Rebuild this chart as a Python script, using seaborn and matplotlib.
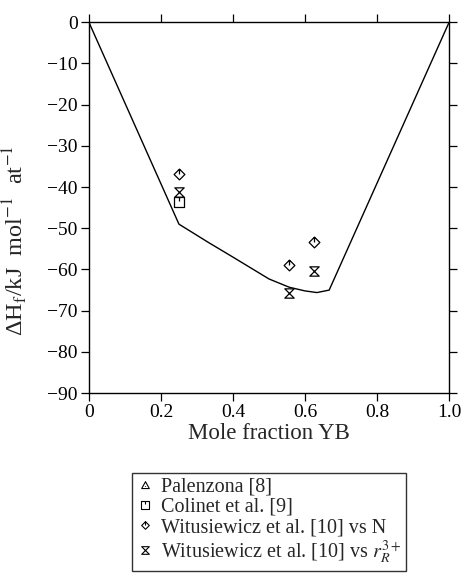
import numpy as np
import pandas as pd
import matplotlib
matplotlib.use("Agg")
import matplotlib.pyplot as plt
from matplotlib.path import Path
import seaborn as sns

# ---- data ----
curve_x = [0.0, 0.25, 0.333, 0.4, 0.5, 0.556, 0.6, 0.633, 0.667, 1.0]
curve_y = [0.0, -49.0, -53.5, -57.0, -62.3, -64.3, -65.2, -65.6, -65.0, 0.0]

palenzona_x = [0.25]
palenzona_y = [-43.6]
colinet_x = [0.25]
colinet_y = [-43.7]
wit_n_x = [0.25, 0.556, 0.625]
wit_n_y = [-36.9, -58.8, -53.4]
wit_r_x = [0.25, 0.556, 0.625]
wit_r_y = [-41.3, -65.6, -60.4]

labels = ["Palenzona [8]", "Colinet et al. [9]",
          "Witusiewicz et al. [10] vs N",
          "Witusiewicz et al. [10] vs $r_R^{3+}$"]
xticks = [0, 0.2, 0.4, 0.6, 0.8, 1.0]
xticklabels = ["0", "0.2", "0.4", "0.6", "0.8", "1.0"]
yticks = list(range(-90, 1, 10))

sns.set_theme(style="ticks")
plt.rcParams['font.family'] = ['Liberation Serif', 'DejaVu Serif']
plt.rcParams['mathtext.fontset'] = 'stix'

# ---- custom markers ----
tri = Path([(-1, -0.8), (1, -0.8), (0, 1), (-1, -0.8), (0, -0.2), (0, -0.4)],
           [Path.MOVETO, Path.LINETO, Path.LINETO, Path.CLOSEPOLY, Path.MOVETO, Path.LINETO])
sq = Path([(-1, -1), (1, -1), (1, 1), (-1, 1), (-1, -1), (0, 1), (0, 0.2)],
          [Path.MOVETO, Path.LINETO, Path.LINETO, Path.LINETO, Path.CLOSEPOLY, Path.MOVETO, Path.LINETO])
dia = Path([(0, -1), (1, 0), (0, 1), (-1, 0), (0, -1), (0, 1), (0, 0)],
           [Path.MOVETO, Path.LINETO, Path.LINETO, Path.LINETO, Path.CLOSEPOLY, Path.MOVETO, Path.LINETO])
hour = Path([(-1, 1), (1, 1), (-1, -1), (1, -1), (-1, 1)],
            [Path.MOVETO, Path.LINETO, Path.LINETO, Path.LINETO, Path.CLOSEPOLY])

fig = plt.figure(figsize=(4.63, 5.85), dpi=100)
ax = fig.add_axes([0.192, 0.328, 0.778, 0.634])

curve_df = pd.DataFrame({"x": curve_x, "y": curve_y})
sns.lineplot(data=curve_df, x="x", y="y", ax=ax, color="black", linewidth=1.0,
             sort=False, estimator=None)

series = [
    (palenzona_x, palenzona_y, tri, labels[0], 40),
    (colinet_x, colinet_y, sq, labels[1], 45),
    (wit_n_x, wit_n_y, dia, labels[2], 60),
    (wit_r_x, wit_r_y, hour, labels[3], 45),
]
handles = []
for xs, ys, mk, lab, s in series:
    df = pd.DataFrame({"x": xs, "y": ys})
    sns.scatterplot(data=df, x="x", y="y", ax=ax, marker=mk, s=s,
                    facecolor="white", edgecolor="black", linewidth=0.9,
                    zorder=3)
    h = plt.Line2D([], [], linestyle="none", marker=mk, markersize=5.5,
                   markerfacecolor="white", markeredgecolor="black",
                   markeredgewidth=0.8, label=lab)
    handles.append(h)

ax.set_xlim(0, 1.0)
ax.set_ylim(-90, 0)
ax.set_xticks(xticks)
ax.set_xticklabels(xticklabels)
ax.set_yticks(yticks)
ax.set_yticklabels([str(v).replace("-", "\u2212") for v in yticks])
ax.tick_params(axis="both", which="both", direction="out", length=6, width=0.9,
               labelsize=14, top=True, right=True, colors="black", pad=2)
for sp in ax.spines.values():
    sp.set_visible(True)
    sp.set_color("black")
    sp.set_linewidth(1.0)

ax.set_xlabel("Mole fraction YB", fontsize=16.5, labelpad=1)
ax.set_ylabel("\u0394H$_\\mathrm{f}$/kJ  mol$^{-1}$  at$^{-1}$",
              fontsize=17.5)
ax.yaxis.set_label_coords(-0.165, 0.41)

leg = fig.legend(handles=handles, loc="upper center",
                 bbox_to_anchor=(0.581, 0.192), frameon=True, fancybox=False,
                 edgecolor="black", fontsize=14.5, handlelength=0.8,
                 handletextpad=0.4, borderpad=0.25, labelspacing=0.05,
                 borderaxespad=0)
leg.get_frame().set_linewidth(1.0)

fig.savefig("out.png", dpi=100, facecolor="white")
